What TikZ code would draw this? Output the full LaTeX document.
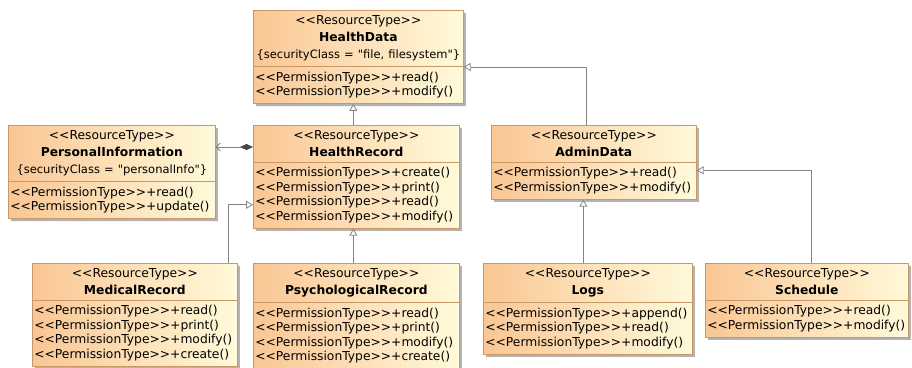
\documentclass[tikz,border=0pt]{standalone}
\usepackage{fontspec}
\usetikzlibrary{shapes.multipart,shadows,arrows.meta}

\newfontfamily\umlfont{DejaVu Sans}[Ligatures=TeXOff]
\definecolor{classleft}{RGB}{250,198,148}
\definecolor{classright}{RGB}{255,250,218}
\definecolor{classline}{RGB}{200,152,104}
\definecolor{linkgray}{RGB}{130,130,130}
\definecolor{diamondgray}{RGB}{70,70,70}

\newcommand{\restype}{<<ResourceType>>}
\newcommand{\permtype}{<<PermissionType>>}
\newcommand{\tagline}[1]{{\fontsize{11.5}{14.5}\selectfont\{#1\}}}

\begin{document}
\begin{tikzpicture}[x=1pt, y=-1pt, line join=round, >=Stealth]

		\tikzset{
			umlclass/.style={rectangle split, rectangle split parts=2, anchor=north west,
				draw=classline, line width=0.7pt, left color=classleft, right color=classright,
				drop shadow={shadow xshift=2.5pt, shadow yshift=-2.5pt, fill=black!40, opacity=0.75},
				inner xsep=2pt, inner ysep=5pt,
				font=\umlfont\fontsize{12.3}{14.5}\selectfont},
			inherit/.style={draw=linkgray, line width=0.8pt, -{Triangle[open, length=7pt, width=8pt, fill=white]}},
			compose/.style={draw=linkgray, line width=0.8pt,
				{Straight Barb[length=4pt, width=8pt]}-{Diamond[length=13pt, width=6pt, color=diamondgray, fill=diamondgray]}}
		}

		\useasboundingbox (0,0) rectangle (912,367);

		% top row
		\node[umlclass, text width=206pt] (hd) at (253,10)
			{\centering\restype\\[2.5pt]{\bfseries HealthData}\\[2.5pt]\tagline{securityClass = "file, filesystem"}\par
			\nodepart{second}\permtype+read()\\\permtype+modify()};

		% middle row
		\node[umlclass, text width=203pt] (pi) at (8,125)
			{\centering\restype\\[2.5pt]{\bfseries PersonalInformation}\\[2.5pt]\tagline{securityClass = "personalInfo"}\par
			\nodepart{second}\permtype+read()\\\permtype+update()};
		\node[umlclass, text width=202pt] (hr) at (253,125)
			{\centering\restype\\[2.5pt]{\bfseries HealthRecord}\par
			\nodepart{second}\permtype+create()\\\permtype+print()\\\permtype+read()\\\permtype+modify()};
		\node[umlclass, text width=201pt] (ad) at (491,125)
			{\centering\restype\\[2.5pt]{\bfseries AdminData}\par
			\nodepart{second}\permtype+read()\\\permtype+modify()};

		% bottom row
		\node[umlclass, text width=201pt] (mr) at (32,263)
			{\centering\restype\\[2.5pt]{\bfseries MedicalRecord}\par
			\nodepart{second}\permtype+read()\\\permtype+print()\\\permtype+modify()\\\permtype+create()};
		\node[umlclass, text width=202pt] (ps) at (253,263)
			{\centering\restype\\[2.5pt]{\bfseries PsychologicalRecord}\par
			\nodepart{second}\permtype+read()\\\permtype+print()\\\permtype+modify()\\\permtype+create()};
		\node[umlclass, text width=205pt] (lg) at (483,263)
			{\centering\restype\\[2.5pt]{\bfseries Logs}\par
			\nodepart{second}\permtype+append()\\\permtype+read()\\\permtype+modify()};
		\node[umlclass, text width=199pt] (sc) at (705,263)
			{\centering\restype\\[2.5pt]{\bfseries Schedule}\par
			\nodepart{second}\permtype+read()\\\permtype+modify()};

		% generalisations
		\draw[inherit] ([xshift=-3pt]hr.north) -- ([xshift=-3pt]hr.north |- hd.south);
		\draw[inherit] ([xshift=-7pt]ad.north) |- ([yshift=-10pt]hd.east);
		\draw[inherit] ([xshift=-9pt]mr.north east) |- ([yshift=-28pt]hr.west);
		\draw[inherit] ([xshift=-3pt]ps.north) -- ([xshift=-3pt]ps.north |- hr.south);
		\draw[inherit] ([xshift=-4.5pt]lg.north) -- ([xshift=-4.5pt]lg.north |- ad.south);
		\draw[inherit] ([xshift=5pt]sc.north) |- ([yshift=-8pt]ad.east);

		% composition
		\coordinate (hrcomp) at ([yshift=-22pt]hr.north west);
		\draw[compose] (pi.east |- hrcomp) -- (hrcomp);
		\end{tikzpicture}
\end{document}
